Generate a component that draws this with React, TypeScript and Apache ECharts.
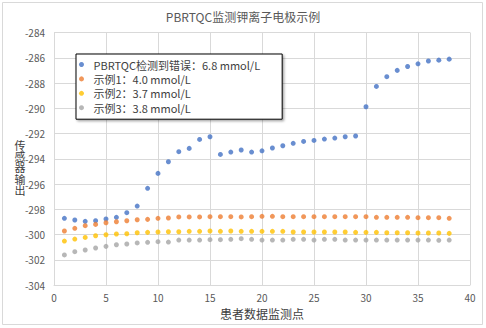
import React, { useEffect, useRef } from "react";
import * as echarts from "echarts";

const title = "PBRTQC监测钾离子电极示例";
const xAxisName = "患者数据监测点";
const yAxisName = "传感器输出";
const seriesNames = [
  "PBRTQC检测到错误：6.8 mmol/L",
  "示例1：4.0 mmol/L",
  "示例2：3.7 mmol/L",
  "示例3：3.8 mmol/L",
];
const seriesColors = ["#4472C4", "#ED7D31", "#FFC000", "#A5A5A5"];

const points = [
  1, 2, 3, 4, 5, 6, 7, 8, 9, 10, 11, 12, 13, 14, 15, 16, 17, 18, 19, 20,
  21, 22, 23, 24, 25, 26, 27, 28, 29, 30, 31, 32, 33, 34, 35, 36, 37, 38,
];

const errorSeries = [
  -298.72, -298.85, -298.96, -298.91, -298.77, -298.64, -298.27, -297.75, -296.34, -295.16,
  -294.24, -293.44, -293.18, -292.47, -292.26, -293.66, -293.47, -293.31, -293.47, -293.37,
  -293.15, -292.97, -292.78, -292.63, -292.55, -292.44, -292.36, -292.26, -292.2, -289.88,
  -288.27, -287.5, -287.0, -286.69, -286.48, -286.26, -286.19, -286.11,
];
const example1 = [
  -299.72, -299.51, -299.3, -299.2, -299.07, -298.99, -298.91, -298.83, -298.8, -298.72,
  -298.69, -298.61, -298.61, -298.61, -298.59, -298.59, -298.59, -298.61, -298.59, -298.56,
  -298.56, -298.59, -298.59, -298.59, -298.59, -298.59, -298.59, -298.59, -298.59, -298.59,
  -298.64, -298.64, -298.64, -298.64, -298.67, -298.67, -298.67, -298.72,
];
const example2 = [
  -300.52, -300.36, -300.23, -300.1, -300.02, -299.96, -299.94, -299.86, -299.83, -299.8,
  -299.78, -299.78, -299.75, -299.75, -299.72, -299.75, -299.72, -299.75, -299.75, -299.75,
  -299.75, -299.75, -299.8, -299.8, -299.8, -299.8, -299.8, -299.8, -299.83, -299.83,
  -299.83, -299.86, -299.86, -299.86, -299.88, -299.88, -299.88, -299.91,
];
const example3 = [
  -301.62, -301.36, -301.23, -301.07, -300.94, -300.81, -300.75, -300.67, -300.62, -300.57,
  -300.6, -300.44, -300.44, -300.44, -300.41, -300.41, -300.38, -300.33, -300.38, -300.44,
  -300.44, -300.44, -300.38, -300.38, -300.44, -300.38, -300.38, -300.44, -300.44, -300.44,
  -300.44, -300.44, -300.44, -300.44, -300.44, -300.44, -300.46, -300.44,
];
const allSeries = [errorSeries, example1, example2, example3];

const FONT = '"Noto Sans CJK SC", "Noto Sans", sans-serif';

export default function App() {
  const ref = useRef<HTMLDivElement>(null);
  useEffect(() => {
    document.body.style.margin = "0";
    if (!ref.current) return;
    const chart = echarts.init(ref.current, undefined, { renderer: "svg" });
    chart.setOption({
      animation: false,
      backgroundColor: "#ffffff",
      textStyle: { fontFamily: FONT },
      title: {
        text: title,
        left: "center",
        top: 5,
        textStyle: { fontSize: 12, fontWeight: "normal", color: "#595959", fontFamily: FONT },
      },
      grid: { left: 54, right: 16, top: 32.5, bottom: 43, containLabel: false },
      legend: {
        orient: "vertical",
        left: 76,
        top: 54,
        padding: [5, 22, 6, 3],
        itemGap: 3.4,
        itemWidth: 14,
        itemHeight: 5,
        icon: "circle",
        backgroundColor: "#ffffff",
        borderColor: "#000000",
        borderWidth: 1,
        borderRadius: 0,
        shadowBlur: 2,
        shadowColor: "rgba(0,0,0,0.35)",
        shadowOffsetX: 1.5,
        shadowOffsetY: 1.5,
        textStyle: { fontSize: 11, color: "#404040", fontFamily: FONT },
        data: seriesNames,
      },
      xAxis: {
        type: "value",
        min: 0,
        max: 40,
        interval: 5,
        name: xAxisName,
        nameLocation: "middle",
        nameGap: 22,
        nameTextStyle: { fontSize: 12, color: "#404040", fontFamily: FONT },
        axisLine: { show: true, lineStyle: { color: "#d9d9d9" } },
        axisTick: { show: false },
        axisLabel: { fontSize: 10, color: "#595959", margin: 7, fontFamily: FONT },
        splitLine: { show: true, lineStyle: { color: "#d9d9d9", width: 1 } },
      },
      yAxis: {
        type: "value",
        min: -304,
        max: -284,
        interval: 2,
        axisLine: { show: true, lineStyle: { color: "#d9d9d9" } },
        axisTick: { show: false },
        axisLabel: { fontSize: 10, color: "#595959", margin: 9, fontFamily: FONT },
        splitLine: { show: true, lineStyle: { color: "#d9d9d9", width: 1 } },
      },
      graphic: [
        {
          type: "rect",
          shape: { x: 2.5, y: 2.5, width: 480, height: 322 },
          style: { fill: "none", stroke: "#d9d9d9", lineWidth: 1 },
          silent: true,
        },
        {
          type: "text",
          x: 20,
          y: 167.4,
          style: {
            text: yAxisName.split("").join("\n"),
            fontSize: 11,
            lineHeight: 11.2,
            fill: "#404040",
            fontFamily: FONT,
            align: "center",
            verticalAlign: "middle",
          },
        },
      ],
      series: allSeries.map((vals, i) => ({
        name: seriesNames[i],
        type: "scatter",
        symbol: "circle",
        symbolSize: 5,
        itemStyle: { color: seriesColors[i] },
        data: points.map((p, j) => [p, vals[j]]),
      })),
    });
    return () => chart.dispose();
  }, []);
  return <div ref={ref} style={{ width: 486, height: 328 }} />;
}
